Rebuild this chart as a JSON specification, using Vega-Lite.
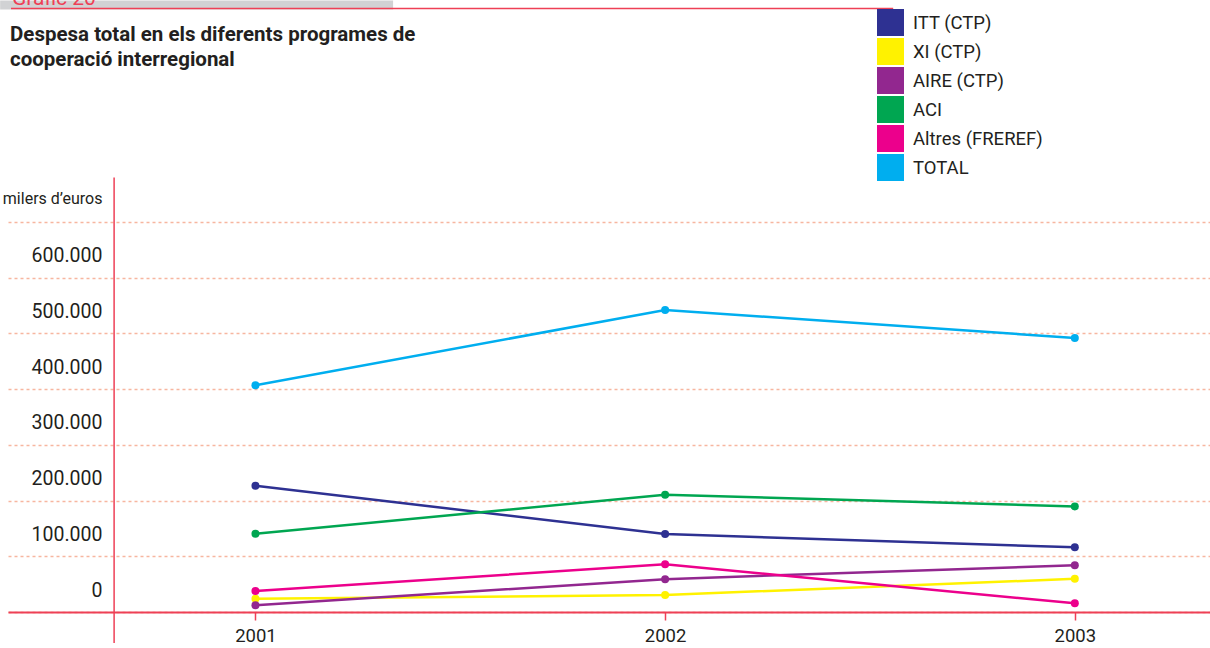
{
  "$schema": "https://vega.github.io/schema/vega-lite/v6.json",
  "width": 1202,
  "height": 390,
  "autosize": "none",
  "padding": {"left": 8, "top": 222, "right": 0, "bottom": 36},
  "background": "white",
  "config": {"view": {"stroke": null}, "font": "Roboto"},
  "datasets": {
    "series": [
      {"serie": "ITT (CTP)", "any": 2001, "valor": 226500},
      {"serie": "ITT (CTP)", "any": 2002, "valor": 140000},
      {"serie": "ITT (CTP)", "any": 2003, "valor": 116000},
      {"serie": "XI (CTP)", "any": 2001, "valor": 24000},
      {"serie": "XI (CTP)", "any": 2002, "valor": 30500},
      {"serie": "XI (CTP)", "any": 2003, "valor": 59500},
      {"serie": "AIRE (CTP)", "any": 2001, "valor": 12000},
      {"serie": "AIRE (CTP)", "any": 2002, "valor": 59000},
      {"serie": "AIRE (CTP)", "any": 2003, "valor": 84000},
      {"serie": "ACI", "any": 2001, "valor": 140500},
      {"serie": "ACI", "any": 2002, "valor": 210500},
      {"serie": "ACI", "any": 2003, "valor": 189500},
      {"serie": "Altres (FREREF)", "any": 2001, "valor": 37500},
      {"serie": "Altres (FREREF)", "any": 2002, "valor": 85500},
      {"serie": "Altres (FREREF)", "any": 2003, "valor": 15500},
      {"serie": "TOTAL", "any": 2001, "valor": 407000},
      {"serie": "TOTAL", "any": 2002, "valor": 542000},
      {"serie": "TOTAL", "any": 2003, "valor": 492000}
    ]
  },
  "layer": [
    {
      "data": {"values": [{}]},
      "mark": {"type": "rect", "color": "#d1d2d4"},
      "encoding": {
        "x": {"datum": 2000.3768, "type": "quantitative", "scale": {"domain": [2000.396, 2003.33], "nice": false, "zero": false}},
        "x2": {"datum": 2001.336},
        "y": {"datum": 1097560, "type": "quantitative", "scale": {"domain": [0, 700000], "nice": false}},
        "y2": {"datum": 1081420}
      }
    },
    {
      "data": {"values": [{}]},
      "mark": {"type": "text", "text": "Gràfic 20", "color": "#ee4056", "fontSize": 21, "align": "left", "baseline": "alphabetic", "font": "Roboto"},
      "encoding": {
        "x": {"datum": 2000.4058, "type": "quantitative"},
        "y": {"datum": 1088600, "type": "quantitative"}
      }
    },
    {
      "data": {"values": [{}]},
      "mark": {"type": "rule", "color": "#ee4056", "strokeWidth": 1.5},
      "encoding": {
        "x": {"datum": 2000.4033, "type": "quantitative"},
        "x2": {"datum": 2002.5567},
        "y": {"datum": 1083210, "type": "quantitative"}
      }
    },
    {
      "data": {"values": [{}]},
      "mark": {
        "type": "text",
        "text": ["Despesa total en els diferents programes de", "cooperació interregional"],
        "color": "#231f20",
        "fontSize": 20.5,
        "fontWeight": "bold",
        "font": "Roboto",
        "lineHeight": 25,
        "align": "left",
        "baseline": "alphabetic"
      },
      "encoding": {
        "x": {"datum": 2000.4009, "type": "quantitative"},
        "y": {"datum": 1024000, "type": "quantitative"}
      }
    },
    {
      "data": {"values": [{}]},
      "mark": {"type": "rule", "color": "#ee4056", "strokeWidth": 1.5},
      "encoding": {
        "x": {"datum": 2000.655, "type": "quantitative"},
        "y": {"datum": -55600, "type": "quantitative"},
        "y2": {"datum": 780000}
      }
    },
    {
      "data": {"name": "series"},
      "mark": {"type": "line", "strokeWidth": 2.5},
      "encoding": {
        "x": {
          "field": "any",
          "type": "quantitative",
          "scale": {"domain": [2000.396, 2003.33], "nice": false, "zero": false},
          "axis": {
            "title": null,
            "values": [2001, 2002, 2003],
            "format": "d",
            "grid": false,
            "domainColor": "#ee4056",
            "domainWidth": 2,
            "tickColor": "#ee4056",
            "tickWidth": 1.5,
            "tickSize": 8,
            "labelFontSize": 18.5,
            "labelFont": "Roboto",
            "labelColor": "#231f20",
            "labelPadding": 6,
            "labelFlush": false,
            "labelOverlap": false
          }
        },
        "y": {
          "field": "valor",
          "type": "quantitative",
          "scale": {"domain": [0, 700000], "nice": false},
          "axis": {
            "title": null,
            "values": [0, 100000, 200000, 300000, 400000, 500000, 600000, 700000],
            "grid": true,
            "gridColor": "#f7b6a0",
            "gridDash": [3, 3],
            "gridWidth": 1.5,
            "domain": false,
            "ticks": false,
            "tickSize": 0,
            "labelPadding": -94,
            "labelAlign": "right",
            "labelBaseline": "middle",
            "labelOffset": {"condition": {"test": "datum.value == 700000", "value": -24}, "value": -22},
            "labelFontSize": {"condition": {"test": "datum.value == 700000", "value": 16}, "value": 19.5},
            "labelFont": "Roboto",
            "labelColor": "#231f20",
            "labelFlush": false,
            "labelOverlap": false,
            "labelBound": false,
            "labelExpr": "datum.value == 700000 ? 'milers d’euros' : replace(format(datum.value, ','), ',', '.')"
          }
        },
        "color": {
          "field": "serie",
          "type": "nominal",
          "scale": {
            "domain": ["ITT (CTP)", "XI (CTP)", "AIRE (CTP)", "ACI", "Altres (FREREF)", "TOTAL"],
            "range": ["#2e3192", "#fff200", "#92278f", "#00a651", "#ec008c", "#00aeef"]
          },
          "legend": {
            "title": null,
            "orient": "none",
            "legendX": 869,
            "legendY": -213,
            "symbolType": "square",
            "symbolSize": 729,
            "symbolStrokeWidth": 0,
            "symbolOpacity": 1,
            "labelFontSize": 18.5,
            "labelFont": "Roboto",
            "labelColor": "#231f20",
            "rowPadding": 2,
            "labelOffset": 9,
            "padding": 0
          }
        },
        "detail": {"field": "serie"}
      }
    },
    {
      "data": {"name": "series"},
      "mark": {"type": "point", "filled": true, "size": 64, "opacity": 1},
      "encoding": {
        "x": {"field": "any", "type": "quantitative"},
        "y": {"field": "valor", "type": "quantitative"},
        "color": {"field": "serie", "type": "nominal"}
      }
    }
  ]
}
